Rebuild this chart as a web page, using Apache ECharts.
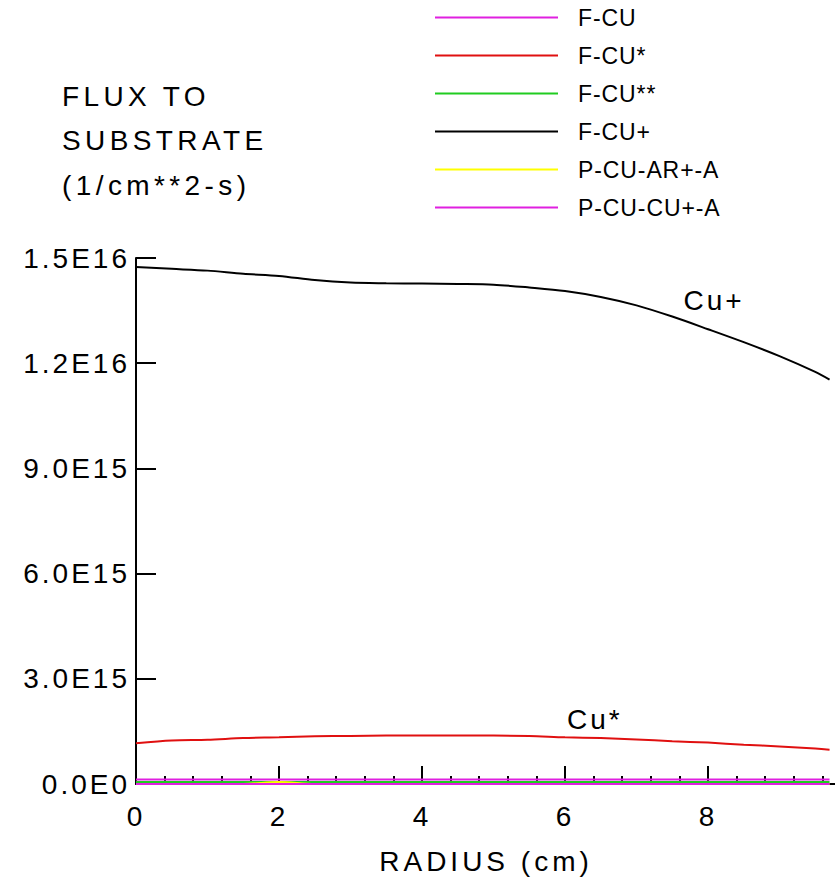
<!DOCTYPE html>
<html>
<head>
<meta charset="utf-8">
<script src="https://cdn.jsdelivr.net/npm/echarts@6/dist/echarts.min.js"></script>
<style>
  html, body { margin: 0; padding: 0; background: #ffffff; overflow: hidden; }
  /* the plot runs past the right window edge so the axis can end at 10 cm */
  #chart { width: 851px; height: 887px; letter-spacing: 3px; }
  /* per-text spacing, keyed on the font family lists below */
  #chart text[style*="Arial"] { letter-spacing: 4.4px; }
  #chart text[style*="Helvetica"] { letter-spacing: 4px; }
  #chart text[style*="sans-serif"] { letter-spacing: 0.9px; }
</style>
</head>
<body>
<div id="chart"></div>
<script>
// Radial positions (cm) where the fluxes are sampled
const radius = [0, 0.5, 1.0, 1.5, 2.0, 2.5, 3.0, 3.5, 4.0, 4.5, 5.0,
                5.5, 6.0, 6.5, 7.0, 7.5, 8.0, 8.5, 9.0, 9.5, 9.7];

// Species fluxes to the substrate (1/cm**2-s)
const fCu = [1.3e14, 1.3e14, 1.3e14, 1.3e14, 1.3e14, 1.3e14, 1.3e14, 1.3e14, 1.3e14, 1.3e14, 1.3e14,
             1.3e14, 1.3e14, 1.3e14, 1.3e14, 1.3e14, 1.3e14, 1.3e14, 1.3e14, 1.3e14, 1.3e14];
const fCuStar = [1.16e15, 1.24e15, 1.26e15, 1.31e15, 1.33e15, 1.36e15, 1.37e15, 1.38e15, 1.38e15, 1.38e15, 1.38e15,
                 1.37e15, 1.33e15, 1.31e15, 1.27e15, 1.22e15, 1.18e15, 1.12e15, 1.07e15, 1.01e15, 0.98e15];
const fCuStar2 = [6e13, 6e13, 6e13, 6e13, 6e13, 6e13, 6e13, 6e13, 6e13, 6e13, 6e13,
                  6e13, 6e13, 6e13, 6e13, 6e13, 6e13, 6e13, 6e13, 6e13, 6e13];
const fCuPlus = [1.474e16, 1.469e16, 1.464e16, 1.455e16, 1.449e16, 1.437e16, 1.430e16, 1.428e16, 1.427e16, 1.426e16, 1.424e16,
                 1.416e16, 1.406e16, 1.389e16, 1.365e16, 1.333e16, 1.297e16, 1.260e16, 1.220e16, 1.175e16, 1.153e16];
const pCuArA = [0, 0, 0, 0, 6e13, 0, 0, 0, 0, 0, 0,
                0, 0, 0, 0, 0, 0, 0, 0, 0, 0];
const pCuCuA = [0, 0, 0, 0, 0, 0, 0, 0, 0, 0, 0,
                0, 0, 0, 0, 0, 0, 0, 0, 0, 0];

const seriesNames = ['F-CU', 'F-CU*', 'F-CU**', 'F-CU+', 'P-CU-AR+-A', 'P-CU-CU+-A'];
const seriesColors = ['#e020e0', '#e01010', '#20cc20', '#000000', '#ffff00', '#e020e0'];
const seriesValues = [fCu, fCuStar, fCuStar2, fCuPlus, pCuArA, pCuCuA];

// Y tick labels, bottom to top
const yTickLabels = ['0.0E0', '3.0E15', '6.0E15', '9.0E15', '1.2E16', '1.5E16'];

// Curve annotations: series index, sample index, text
const curveNotes = [
  { series: 3, at: 16, text: 'Cu+', offset: [6, -10] },
  { series: 1, at: 13, text: 'Cu*', offset: [-6, 0] }
];

const FONT = 'Liberation Sans';
const FONT_TITLE = 'Liberation Sans, Arial';
const FONT_NAME = 'Liberation Sans, Helvetica';
const FONT_LEGEND = 'Liberation Sans, sans-serif';

const series = seriesNames.map((name, si) => {
  const notes = curveNotes.filter(n => n.series === si).map(n => ({
    coord: [radius[n.at], seriesValues[si][n.at]],
    symbol: 'circle',
    symbolSize: 0,
    label: {
      show: true,
      formatter: n.text,
      position: 'top',
      offset: n.offset,
      fontFamily: FONT,
      fontSize: 28,
      color: '#000'
    }
  }));
  return {
    name: name,
    type: 'line',
    data: radius.map((r, i) => [r, seriesValues[si][i]]),
    showSymbol: false,
    symbol: 'none',
    smooth: 0.3,
    lineStyle: { color: seriesColors[si], width: 2 },
    itemStyle: { color: seriesColors[si] },
    emphasis: { disabled: true },
    markPoint: notes.length ? { silent: true, animation: false, data: notes } : undefined,
    z: 2 + si,
    animation: false
  };
});

const chart = echarts.init(document.getElementById('chart'), null, { renderer: 'svg' });
chart.setOption({
  backgroundColor: '#ffffff',
  animation: false,
  textStyle: { fontFamily: FONT },
  title: {
    text: 'FLUX TO\nSUBSTRATE\n(1/cm**2-s)',
    left: 62,
    top: 74,
    padding: 0,
    textStyle: {
      fontFamily: FONT_TITLE,
      fontSize: 28,
      fontWeight: 'normal',
      color: '#000',
      lineHeight: 44.5
    }
  },
  legend: {
    orient: 'vertical',
    left: 435,
    top: 6,
    padding: 0,
    icon: 'rect',
    itemWidth: 123,
    itemHeight: 2,
    itemGap: 15,
    selectedMode: false,
    data: seriesNames,
    textStyle: {
      fontFamily: FONT_LEGEND,
      fontSize: 23,
      lineHeight: 23,
      color: '#000',
      padding: [0, 0, 0, 15]
    }
  },
  grid: {
    left: 136,
    top: 258,
    right: 0,
    bottom: 103,
    containLabel: false
  },
  xAxis: {
    type: 'value',
    min: 0,
    max: 10,
    interval: 2,
    name: 'RADIUS (cm)',
    nameLocation: 'middle',
    nameGap: 63,
    nameTextStyle: { fontFamily: FONT_NAME, fontSize: 28, color: '#000', padding: [0, 15, 0, 0] },
    axisLine: { show: true, lineStyle: { color: '#000', width: 2 } },
    axisTick: { show: true, inside: true, length: 18, lineStyle: { color: '#000', width: 2 } },
    minorTick: { show: true, splitNumber: 5, length: 8, lineStyle: { color: '#000', width: 2 } },
    splitLine: { show: false },
    axisLabel: {
      fontFamily: FONT,
      fontSize: 28,
      color: '#000',
      margin: 18,
      showMaxLabel: false
    }
  },
  yAxis: {
    type: 'value',
    min: 0,
    max: 1.5e16,
    interval: 3e15,
    axisLine: { show: true, lineStyle: { color: '#000', width: 2 } },
    axisTick: { show: true, inside: true, length: 20, lineStyle: { color: '#000', width: 2 } },
    splitLine: { show: false },
    axisLabel: {
      fontFamily: FONT,
      fontSize: 28,
      color: '#000',
      margin: 6,
      formatter: (v) => yTickLabels[Math.round(v / 3e15)]
    }
  },
  series: series
});
</script>
</body>
</html>
